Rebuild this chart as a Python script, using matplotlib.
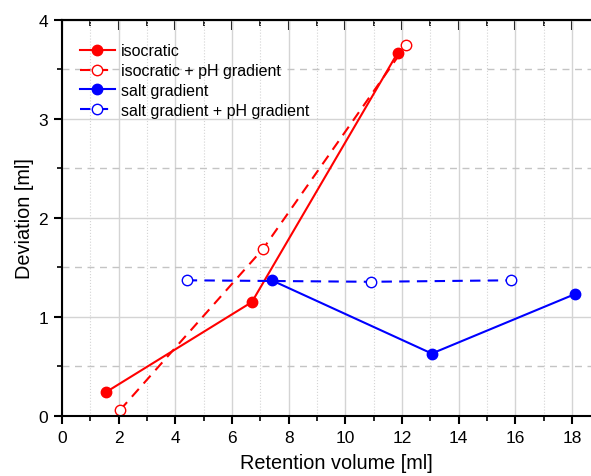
import matplotlib.pyplot as plt
from matplotlib.ticker import MultipleLocator

plt.rcParams["font.family"] = ["Liberation Sans", "DejaVu Sans"]

# retention volume [ml] and deviation [ml] per method
iso_x = [1.55, 6.7, 11.85]
iso_y = [0.24, 1.15, 3.67]

iso_ph_x = [2.05, 7.1, 12.15]
iso_ph_y = [0.06, 1.69, 3.75]

salt_x = [7.4, 13.05, 18.1]
salt_y = [1.37, 0.63, 1.23]

salt_ph_x = [4.4, 10.9, 15.85]
salt_ph_y = [1.37, 1.355, 1.37]

fig = plt.figure(figsize=(5.91, 4.77), dpi=100)
ax = fig.add_axes([0.105, 0.126, 0.93, 0.830])

ax.plot(iso_x, iso_y, "-", color="#ff0000", lw=1.5, marker="o", ms=7.5,
        label="isocratic")
ax.plot(iso_ph_x, iso_ph_y, "--", color="#ff0000", lw=1.5, marker="o", ms=7.5,
        mfc="white", mec="#ff0000", mew=1.0, dashes=(5, 3.5),
        label="isocratic + pH gradient")
ax.plot(salt_x, salt_y, "-", color="#0000ff", lw=1.5, marker="o", ms=7.5,
        label="salt gradient")
ax.plot(salt_ph_x, salt_ph_y, "--", color="#0000ff", lw=1.5, marker="o", ms=7.5,
        mfc="white", mec="#0000ff", mew=1.0, dashes=(5, 3.5),
        label="salt gradient + pH gradient")

ax.set_xlim(0, 19.4)
ax.set_ylim(0, 4)
ax.xaxis.set_major_locator(MultipleLocator(2))
ax.xaxis.set_minor_locator(MultipleLocator(1))
ax.yaxis.set_major_locator(MultipleLocator(1))
ax.yaxis.set_minor_locator(MultipleLocator(0.5))

# grid: solid majors, dotted/dashed minors
ax.grid(which="major", axis="both", color="#d4d4d4", lw=1.0, ls="-")
ax.grid(which="minor", axis="x", color="#d4d4d4", lw=0.8, ls=":")
ax.grid(which="minor", axis="y", color="#c4c4c4", lw=1.0, ls=(0, (5, 4)))
ax.set_axisbelow(True)

for side in ["left", "bottom", "top", "right"]:
    ax.spines[side].set_linewidth(1.5)
    ax.spines[side].set_color("black")

ax.tick_params(which="major", direction="out", length=6, width=1.5,
               labelsize=12.5, pad=4)
ax.tick_params(which="minor", direction="out", length=3.5, width=1.2)

# top axis: ticks only, pointing into the plot
top = ax.secondary_xaxis("top")
top.xaxis.set_major_locator(MultipleLocator(2))
top.xaxis.set_minor_locator(MultipleLocator(1))
top.tick_params(which="major", direction="in", length=7, width=1.5,
                labeltop=False)
top.tick_params(which="minor", direction="in", length=4, width=1.2)
top.spines["top"].set_linewidth(1.5)

ax.set_xlabel("Retention volume [ml]", fontsize=14.3, labelpad=6)
ax.set_ylabel("Deviation [ml]", fontsize=14.3, labelpad=3)

ax.legend(loc="upper left", bbox_to_anchor=(0.0, 0.985), frameon=False,
          fontsize=11.5, handlelength=2.2, handletextpad=0.4,
          labelspacing=0.3, borderaxespad=0.7)

fig.savefig("out.png", dpi=100)
